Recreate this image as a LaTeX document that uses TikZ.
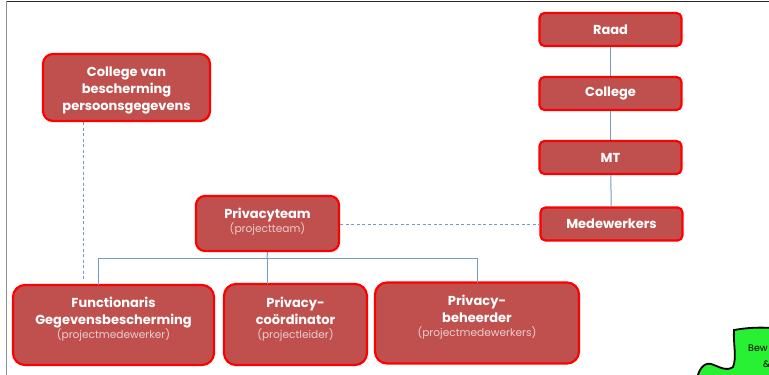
\documentclass[tikz,border=0pt]{standalone}
\usepackage{fontspec}
\setmainfont{Poppins}
\definecolor{boxfill}{RGB}{192,80,77}
\definecolor{boxline}{RGB}{255,0,0}
\definecolor{subtext}{RGB}{236,205,205}
\definecolor{linkblue}{RGB}{79,129,189}
\definecolor{puzzle}{RGB}{40,240,50}
\tikzset{
	orgbox/.style={draw=boxline,fill=boxfill,line width=2.2pt,rounded corners=5pt,align=center,text=white,font=\bfseries\fontsize{13}{17}\selectfont,inner sep=0pt},
	link/.style={draw=linkblue!80,line width=1pt},
	dashlink/.style={link,dash pattern=on 3pt off 2.5pt}
}
\newcommand{\subtxt}[2]{{\color{subtext}\mdseries\fontsize{10.6}{13}\selectfont #1\rule[-#2pt]{0pt}{0pt}}}
\begin{document}
\begin{tikzpicture}[x=1pt,y=-1pt]
	\useasboundingbox (0,0) rectangle (769,375);
	\begin{scope}
		\clip (0,0) rectangle (769,375);
		% frame
		\draw[line width=1pt,black!85] (6,1)--(769,1);
		\draw[line width=1.5pt,black!45] (6.5,1)--(6.5,375);

		% puzzle piece
		\draw[fill=puzzle,line width=1.8pt] (734,330) .. controls (745,328) and (758,327) .. (772,328)
			-- (772,380) -- (697,380) .. controls (698,370) and (704,362) .. (711,364)
			.. controls (718,366) and (726,372) .. (733,367) .. controls (737,358) and (733,342) .. (734,330) -- cycle;
		\node[font=\fontsize{9.5}{15}\selectfont,anchor=west,inner sep=0pt] (bew) at (748,348) {Bew};
		\node[font=\fontsize{9.5}{15}\selectfont,anchor=west,inner sep=0pt] (amp) at (763,364) {\&};

		% right column
		\node[orgbox,minimum width=142pt,minimum height=33pt] (raad) at (610.5,29.5) {Raad};
		\node[orgbox,minimum width=142pt,minimum height=33pt] (college) at (610.5,93.5) {College};
		\node[orgbox,minimum width=142pt,minimum height=33pt] (mt) at (610.5,157.5) {MT};
		\node[orgbox,minimum width=142pt,minimum height=33pt] (medewerkers) at (611.5,224) {Medewerkers};

		% left
		\node[orgbox,minimum width=167pt,minimum height=67pt,rounded corners=10pt] (cbp) at (126.5,87.5) {\rule{0pt}{16pt}College van\\bescherming\\persoonsgegevens};
		\node[orgbox,minimum width=143pt,minimum height=55pt,rounded corners=9pt] (team) at (267.5,223.5) {Privacyteam\\[-3pt]\subtxt{(projectteam)}{6}};
		\node[orgbox,minimum width=201pt,minimum height=80pt,rounded corners=12pt] (fg) at (113.5,325) {Functionaris\\Gegevensbescherming\\[-3pt]\subtxt{(projectmedewerker)}{14}};
		\node[orgbox,minimum width=143pt,minimum height=81pt,rounded corners=12pt] (coord) at (295.5,324.5) {Privacy-\\coördinator\\[-3pt]\subtxt{(projectleider)}{14}};
		\node[orgbox,minimum width=204pt,minimum height=81pt,rounded corners=12pt] (beh) at (477,323) {Privacy-\\beheerder\\[-3pt]\subtxt{(projectmedewerkers)}{14}};

		% connectors
		\coordinate (cbpfoot) at (83,281);
		\coordinate (branch) at (267,258);
		\draw[link] (raad)--(college);
		\draw[link] (college)--(mt);
		\draw[link] (mt)--(medewerkers);
		\draw[link] (team.south)--(branch);
		\draw[link] (branch)--(267,284);
		\draw[link] (98,285)--(98,258)--(477,258)--(477,283);
		\draw[dashlink] (cbp.south -| cbpfoot)--(cbpfoot);
		\draw[dashlink] (team.east |- medewerkers.west)--(medewerkers.west);
	\end{scope}
\end{tikzpicture}
\end{document}
